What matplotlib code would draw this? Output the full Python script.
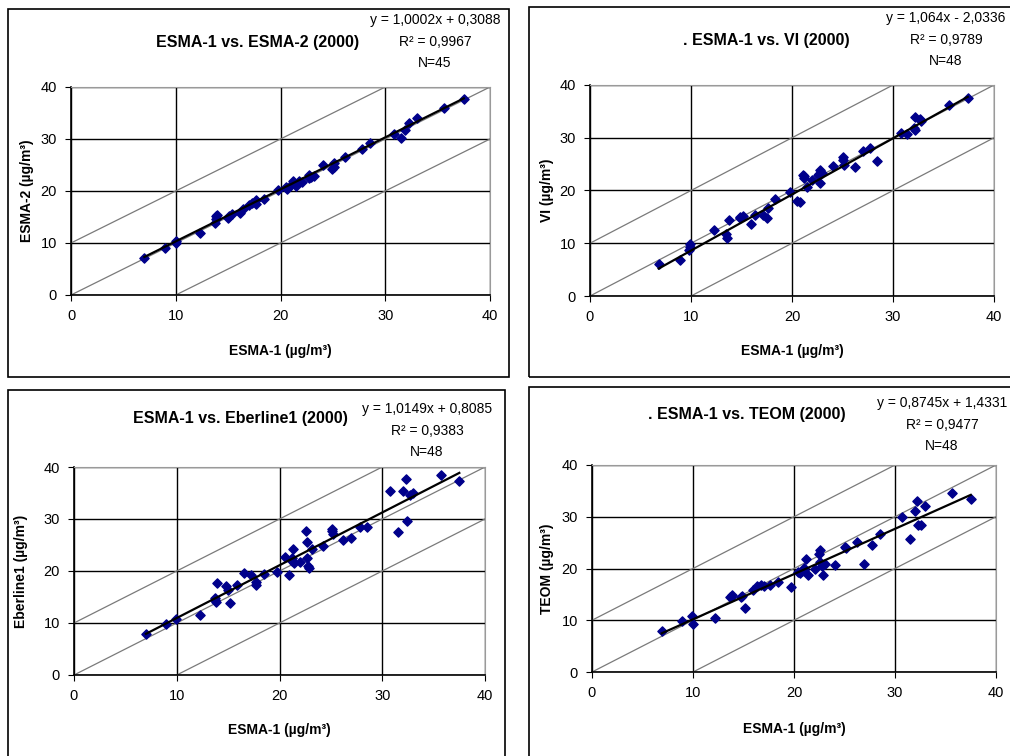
import numpy as np
import matplotlib
matplotlib.use('Agg')
import matplotlib.pyplot as plt
from matplotlib.patches import Rectangle

plt.rcParams['font.family'] = ['Liberation Sans Narrow', 'Liberation Sans', 'DejaVu Sans']

# ---------------- data ----------------
esma2_x = [7.0, 9.0, 10.0, 10.05, 12.3, 13.7, 13.8, 13.8, 13.9, 15.0, 15.1, 16.1, 16.4, 17.3,
           17.7, 17.7, 18.4, 19.8, 20.5, 20.6, 21.0, 21.2, 21.5, 22.1, 22.7, 22.7, 22.9, 23.2,
           24.1, 24.9, 25.1, 25.1, 26.2, 27.8, 28.5, 30.8, 31.5, 31.9, 32.3, 33.0, 35.6, 37.5,
           21.8, 17.0, 15.4]
esma2_y = [7.1, 9.0, 10.0, 10.3, 11.9, 13.8, 15.1, 14.7, 15.4, 14.8, 15.1, 15.8, 16.6, 17.7,
           18.3, 17.5, 18.5, 20.1, 20.7, 20.4, 21.1, 21.9, 20.9, 21.7, 23.0, 22.5, 22.6, 22.8,
           25.0, 24.3, 25.4, 24.6, 26.5, 28.0, 29.3, 31.0, 30.1, 31.8, 33.1, 34.0, 36.0, 37.6,
           21.9, 17.3, 15.6]

vi_x = [6.8, 8.9, 9.8, 9.9, 12.3, 13.5, 13.6, 13.8, 14.9, 15.1, 15.9, 16.3, 17.1, 17.5,
        17.6, 18.3, 19.8, 20.5, 20.8, 21.1, 21.2, 21.5, 22.0, 22.6, 22.8, 22.8, 23.0, 24.1,
        25.0, 25.1, 26.2, 27.0, 27.7, 28.4, 30.8, 31.4, 32.1, 32.2, 32.2, 32.7, 32.8, 35.5,
        37.4, 21.2, 14.9, 22.7, 25.0, 9.9]
vi_y = [6.0, 6.9, 8.8, 9.8, 12.5, 11.7, 11.0, 14.4, 14.8, 15.2, 13.7, 15.4, 15.4, 14.8,
        16.7, 18.4, 19.8, 18.0, 17.8, 23.0, 22.4, 20.7, 22.0, 23.0, 23.9, 21.4, 23.4, 24.7,
        26.3, 24.9, 24.4, 27.4, 28.0, 25.5, 30.9, 30.7, 31.8, 31.5, 33.9, 33.5, 33.1, 36.2,
        37.5, 22.8, 15.0, 23.2, 25.7, 9.3]

eb_x = [7.0, 9.0, 9.9, 12.3, 13.7, 13.8, 13.9, 14.8, 15.0, 15.2, 15.9, 16.5, 17.2, 17.7,
        17.7, 18.5, 19.8, 20.5, 20.9, 21.2, 21.3, 21.4, 22.0, 22.6, 22.7, 22.7, 22.8, 22.9,
        23.2, 24.2, 25.1, 25.2, 26.2, 27.0, 27.8, 28.5, 30.8, 31.5, 32.0, 32.3, 32.4, 32.7,
        33.0, 35.7, 37.5, 21.2, 13.7, 25.1]
eb_y = [7.8, 9.9, 10.7, 11.5, 14.8, 14.1, 17.7, 17.2, 16.3, 13.9, 17.4, 19.6, 19.2, 17.8,
        17.4, 19.4, 19.9, 22.7, 19.3, 22.5, 24.3, 21.6, 21.7, 27.7, 22.5, 25.6, 21.0, 20.6,
        24.3, 24.8, 28.0, 27.2, 25.9, 26.3, 28.5, 28.4, 35.3, 27.5, 35.3, 37.7, 29.6, 34.6,
        35.0, 38.5, 37.4, 21.9, 14.4, 27.6]

teom_x = [6.9, 8.9, 9.9, 10.0, 12.2, 13.7, 13.9, 14.8, 14.9, 15.1, 15.9, 16.3, 17.0, 17.6,
          18.4, 19.7, 20.4, 20.6, 21.0, 21.2, 21.4, 22.1, 22.5, 22.6, 22.8, 22.9, 23.1, 24.1,
          25.0, 25.1, 26.2, 26.9, 27.7, 28.5, 30.7, 31.5, 32.0, 32.3, 32.2, 32.6, 33.0, 35.6,
          37.5, 20.8, 21.0, 16.7, 13.8, 22.6]
teom_y = [8.0, 9.8, 10.9, 9.3, 10.4, 14.4, 14.8, 14.4, 14.7, 12.4, 15.8, 16.7, 16.7, 16.9,
          17.3, 16.4, 19.4, 19.1, 20.1, 21.9, 18.7, 19.9, 22.8, 23.6, 20.5, 18.8, 20.8, 20.6,
          24.1, 23.9, 25.2, 20.8, 24.6, 26.7, 30.0, 25.7, 31.2, 28.4, 33.1, 28.4, 32.0, 34.5,
          33.4, 19.6, 19.8, 16.8, 14.5, 21.2]

titles = ['ESMA-1 vs. ESMA-2 (2000)', '. ESMA-1 vs. VI (2000)',
          'ESMA-1 vs. Eberline1 (2000)', '. ESMA-1 vs. TEOM (2000)']
ylabels = ['ESMA-2 (µg/m³)', 'VI (µg/m³)', 'Eberline1 (µg/m³)', 'TEOM (µg/m³)']
slopes = [1.0002, 1.064, 1.0149, 0.8745]
intercepts = [0.3088, -2.0336, 0.8085, 1.4331]
eq_txt = ['y = 1,0002x + 0,3088', 'y = 1,064x - 2,0336',
          'y = 1,0149x + 0,8085', 'y = 0,8745x + 1,4331']
r2_txt = ['R² = 0,9967', 'R² = 0,9789', 'R² = 0,9383', 'R² = 0,9477']
n_txt = ['N=45', 'N=48', 'N=48', 'N=48']
ticks = [0, 10, 20, 30, 40]
offsets = [-10, 0, 10]

xs = [esma2_x, vi_x, eb_x, teom_x]
ys = [esma2_y, vi_y, eb_y, teom_y]

# ---------------- layout in pixels ----------------
W, H = 1010, 756
fig = plt.figure(figsize=(W / 100, H / 100), dpi=100)

def fx(p): return p / W
def fy(p): return 1 - p / H

# axes boxes (left, right, top, bottom) in pixels
ax_px = [(71, 490, 87, 295), (590, 994, 85, 296), (74, 485, 467, 675), (592, 996, 465, 672)]
# panel frames (left, top, right, bottom)
frames = [(8, 9, 509, 377), (529, 7, 1016, 377), (8, 390, 505, 770), (529, 387, 1016, 770)]
title_pos = [(258, 42), (766, 40), (240, 419), (747, 414)]
eq_pos = [(435, 20), (946, 18), (427, 409), (942, 403)]
ylab_px = [34, 554, 28, 554]
xlab_px = [344, 344, 723, 722]

for (l, t, r, b) in frames:
    fig.patches.append(Rectangle((fx(l), fy(b)), fx(r - l), (b - t) / H, transform=fig.transFigure,
                                 fill=False, edgecolor='black', linewidth=1.2))

for i in range(4):
    l, r, t, b = ax_px[i]
    ax = fig.add_axes([fx(l), fy(b), fx(r - l), (b - t) / H])
    xx = np.array([0, 40])
    for o in offsets:
        ax.plot(xx, xx + o, color='#7a7a7a', lw=0.9, zorder=2)
    x = np.array(xs[i]); y = np.array(ys[i])
    ax.scatter(x, y, marker='D', s=22, color='#00008B', edgecolors='#00008B', zorder=3)
    tx = np.array([x.min(), x.max()])
    ax.plot(tx, slopes[i] * tx + intercepts[i], color='black', lw=1.6, zorder=4)

    ax.set_xlim(0, 40); ax.set_ylim(0, 40)
    ax.set_xticks(ticks); ax.set_yticks(ticks)
    ax.grid(True, color='black', lw=1.0, zorder=1)
    ax.set_axisbelow(True)
    for s in ['top', 'right']:
        ax.spines[s].set_color('#9a9a9a')
    for s in ['left', 'bottom']:
        ax.spines[s].set_linewidth(1.2)
    ax.tick_params(direction='out', length=4, labelsize=10.5, pad=6)
    ax.set_ylabel(ylabels[i], fontsize=10, fontweight='bold')
    ax.set_xlabel('ESMA-1 (µg/m³)', fontsize=10, fontweight='bold')
    ax.yaxis.set_label_coords((ylab_px[i] - l) / (r - l), 0.5)
    ax.xaxis.set_label_coords(0.5, (b - xlab_px[i]) / (b - t))

    px, py = title_pos[i]
    fig.text(fx(px), fy(py), titles[i], ha='center', va='center', fontsize=11.5, fontweight='bold')
    ex, ey = eq_pos[i]
    fig.text(fx(ex), fy(ey), eq_txt[i], ha='center', va='center', fontsize=10)
    fig.text(fx(ex), fy(ey + 22), r2_txt[i], ha='center', va='center', fontsize=10)
    fig.text(fx(ex), fy(ey + 43), n_txt[i], ha='center', va='center', fontsize=10)

fig.savefig('out.png', dpi=100)
